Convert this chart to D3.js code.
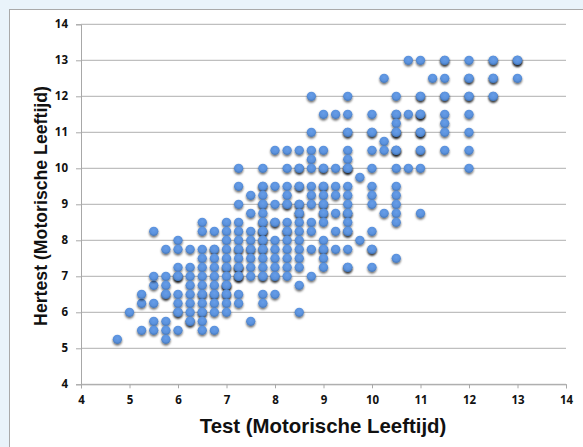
<!DOCTYPE html>
<html>
<head>
<meta charset="utf-8">
<script src="https://cdnjs.cloudflare.com/ajax/libs/d3/7.8.5/d3.min.js"></script>
<style>
  html, body { margin: 0; padding: 0; background: #e9f3fa; }
  svg { display: block; }
</style>
</head>
<body>
<div id="chart"></div>
<script>
//one array per test score, a repeated value means several kids on the same spot
const testScores = [4.75,5,5.25,5.5,5.75,6,6.25,6.5,6.75,7,7.25,7.5,7.75,8,8.25,8.5,8.75,9,9.25,9.5,9.75,10,10.25,10.5,10.75,11,11.25,11.5,12,12.5,13]

const col475 = [5.25]
const col500 = [6]
const col525 = [5.5,6.25,6.5]
const col550 = [8.25,6.75,7,6.25,5.75,5.5]
const col575 = [7.75,7,6.75,6.5,6.5,5.75,5.5,5.25]
const col600 = [8,7.75,7.25,7,7,7,6.5,6.25,6,6,5.5]
const col625 = [7.75,7.25,7,6.75,6.5,6.25,6,5.75,5.75]
const col650 = [8.5,8.25,7.75,7.5,7.25,7,6.75,6.5,6.5,6.25,6,6,5.75,5.5]
const col675 = [8.25,7.75,7.75,7.5,7.25,7,6.75,6.5,6.5,6.25,6,5.5]
const col700 = [8.5,8.25,8,7.75,7.5,7.25,7.25,7,6.75,6.75,6.75,6.5,6.5,6.25,6]
const col725 = [10,9.5,9,8.5,8.25,8,7.75,7.75,7.5,7.25,7.25,7.25,7,7,7,6.5,6.25]
const col750 = [9.25,8.75,8.25,8,7.75,7.75,7.5,7.25,7,5.75]
const col775 = [10,9.5,9.5,9.25,9,9,8.75,8.5,8.5,8.25,8.25,8.25,8,8,7.75,7.75,7.5,7.25,7,7,6.5,6.25]
const col800 = [10.5,9.5,9,8.5,8.5,8,7.75,7.5,7.25,7,7,6.5]
const col825 = [10.5,10,9.5,9.25,9,9,8.5,8.25,8.25,8,7.75,7.5,7.25,7]
const col850 = [10.5,10,10,9.5,9.5,9,9,8.75,8.75,8.5,8.25,8,7.75,7.5,7.25,6.75,6]
const col875 = [12,11,10.5,10.25,10,9.5,9.25,9,8.5,8.25,7.75,7]
const col900 = [11.5,10.5,10,10,9.5,9.5,9.25,9,9,8.75,8.75,8.5,8,7.75,7.75,7.5,7.25]
const col925 = [11.5,10,9.5,9.25,8.75,8.25,7.75]
const col950 = [12,11.5,11,11,10.5,10.25,10,10,10,9.5,9.25,9,8.75,8.75,8.5,8.25,8.25,7.75,7.25,7.25]
const col975 = [9.75,8]
const col1000 = [11.5,11,11,10.5,10,9.5,9.25,9,8.25,7.75,7.75,7.25]
const col1025 = [12.5,10.75,10.5,8.75]
const col1050 = [12,11.5,11.5,11.25,11,11,11,10.5,10.5,10.5,10,9.5,9.25,9,8.75,8.5,7.5]
const col1075 = [13,11.5,10]
const col1100 = [13,12,12,11.5,11.5,11.5,11,11,11,10.5,10.5,10,8.75]
const col1125 = [12.5]
const col1150 = [13,13,12.5,12,12,11.5,11.25,11,10.5]
const col1200 = [13,12.5,12.5,12,12,11.5,11,10.5,10]
const col1250 = [13,13,12.5,12.5,12,12]
const col1300 = [13,13,13,12.5]
const hertestScores = [col475,col500,col525,col550,col575,col600,col625,col650,col675,col700,col725,col750,col775,col800,col825,col850,col875,col900,col925,col950,col975,col1000,col1025,col1050,col1075,col1100,col1125,col1150,col1200,col1250,col1300]

const xTicks = [4,5,6,7,8,9,10,11,12,13,14]
const yTicks = [4,5,6,7,8,9,10,11,12,13,14]

const width = 583
const height = 447

const svg = d3.select("#chart")
    .append("svg")
    .attr("width", width)
    .attr("height", height)

const defs = svg.append("defs")

//ball look of the excel markers
const grad = defs.append("radialGradient")
    .attr("id", "ball")
    .attr("cx", "50%").attr("cy", "38%").attr("r", "62%")
grad.append("stop").attr("offset", "0%").attr("stop-color", "#679de8")
grad.append("stop").attr("offset", "65%").attr("stop-color", "#5a91dc")
grad.append("stop").attr("offset", "100%").attr("stop-color", "#4476b8")

const shadow = defs.append("filter")
    .attr("id", "shadow")
    .attr("x", "-60%").attr("y", "-60%").attr("width", "220%").attr("height", "220%")
shadow.append("feDropShadow")
    .attr("dx", 0).attr("dy", 1.6)
    .attr("stdDeviation", 1)
    .attr("flood-color", "#000")
    .attr("flood-opacity", 0.6)

//white panel, runs off the right and bottom of the picture
svg.append("rect")
    .attr("x", 9.5).attr("y", 9.5)
    .attr("width", 600).attr("height", 460)
    .attr("fill", "#fff")
    .attr("stroke", "#a9a9a9")

const xScale = d3.scaleLinear().domain([4, 14]).range([81, 566])
const yScale = d3.scaleLinear().domain([4, 14]).range([384.3, 24.3])

//gridlines first, they sit under the points
svg.append("g")
    .selectAll("line")
    .data(yTicks)
    .join("line")
    .attr("x1", 81)
    .attr("x2", 566)
    .attr("y1", d => yScale(d))
    .attr("y2", d => yScale(d))
    .attr("stroke", "#b0b0b0")
    .attr("stroke-width", 1)

const xAxis = d3.axisBottom(xScale).tickValues(xTicks).tickSize(4).tickPadding(8)
const xG = svg.append("g")
    .attr("transform", "translate(0," + yScale(4) + ")")
    .call(xAxis)

const yAxis = d3.axisLeft(yScale).tickValues(yTicks).tickSize(5).tickPadding(8)
const yG = svg.append("g")
    .attr("transform", "translate(81,0)")
    .call(yAxis)

xG.selectAll("path, line").attr("stroke", "#a8a8a8")
yG.selectAll("path, line").attr("stroke", "#a8a8a8")
xG.selectAll("text").attr("font-family", "'Open Sans', sans-serif").attr("font-weight", "bold").attr("font-size", "11.5px").attr("fill", "#111")
yG.selectAll("text").attr("font-family", "'Open Sans', sans-serif").attr("font-weight", "bold").attr("font-size", "11.5px").attr("fill", "#111")

//flatten columns into points
const points = d3.merge(testScores.map((t, i) => hertestScores[i].map(h => ({test: t, hertest: h}))))

svg.append("g")
    .selectAll("circle")
    .data(points)
    .join("circle")
    .attr("cx", d => xScale(d.test))
    .attr("cy", d => yScale(d.hertest))
    .attr("r", 4.6)
    .attr("fill", "url(#ball)")
    .attr("filter", "url(#shadow)")

svg.append("text")
    .text("Test (Motorische Leeftijd)")
    .attr("x", 323)
    .attr("y", 433)
    .attr("text-anchor", "middle")
    .attr("font-family", "'Liberation Sans', Arial, sans-serif")
    .attr("font-weight", "bold")
    .attr("font-size", "20.4px")
    .attr("fill", "#111")

svg.append("text")
    .text("Hertest (Motorische Leeftijd)")
    .attr("transform", "translate(47,206) rotate(-90)")
    .attr("text-anchor", "middle")
    .attr("font-family", "'Liberation Sans', Arial, sans-serif")
    .attr("font-weight", "bold")
    .attr("font-size", "17.7px")
    .attr("fill", "#111")
</script>
</body>
</html>
